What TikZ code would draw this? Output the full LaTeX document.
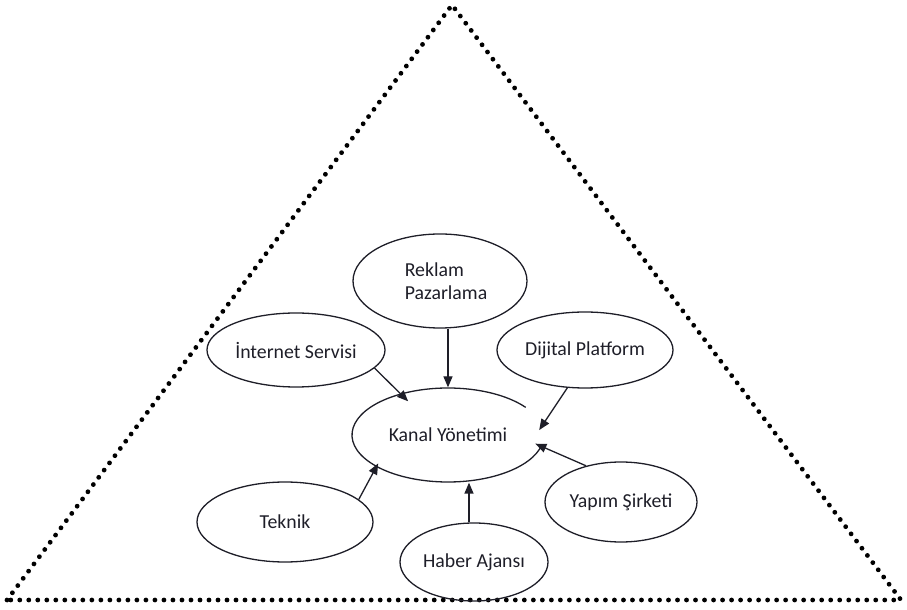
\documentclass[tikz,border=0pt]{standalone}
\usepackage{fontspec}
\setmainfont{Carlito}
\usetikzlibrary{shapes.geometric,arrows.meta}
\definecolor{ink}{HTML}{1E1E28}
\begin{document}
\begin{tikzpicture}[x=1pt,y=1pt,
  bubble/.style={ellipse,draw=ink,line width=1.3pt,inner sep=0pt,
    font=\fontsize{19.8}{23}\selectfont,text=ink,align=left},
  feed/.style={draw=ink,line width=1.3pt,-{Triangle[length=11pt,width=9pt]}},
  frame/.style={draw=black,line width=4.8pt,line cap=round,line join=round,
    dash pattern=on 0.01pt off 9pt}]
\useasboundingbox (0,0) rectangle (907,610);

% dotted outer triangle
\coordinate (apex) at (452,605);
\coordinate (bl) at (7,10);
\coordinate (br) at (901,10);
\draw[frame] (bl) -- (apex) -- (br) -- cycle;

% surrounding actors
\node[bubble,minimum width=174pt,minimum height=94pt] (rp) at (440,329) {\hspace*{12pt}Reklam\\\hspace*{12pt}Pazarlama};
\node[bubble,minimum width=178pt,minimum height=74pt] (is) at (296,260) {İnternet Servisi};
\node[bubble,minimum width=176pt,minimum height=76pt] (dp) at (585,260) {Dijital Platform};
\node[bubble,minimum width=176pt,minimum height=80pt] (tk) at (285,88) {Teknik};
\node[bubble,minimum width=152pt,minimum height=80pt] (ys) at (621,108) {Yapım Şirketi};
\node[bubble,minimum width=148pt,minimum height=78pt] (ha) at (474,48) {Haber Ajansı};

% central node, outline open on the right
\node[bubble,draw=none,minimum width=192pt,minimum height=94pt] (kn) at (448,175) {Kanal Yönetimi};
\draw[ink,line width=1.3pt] ([shift={(36:96pt and 47pt)}]kn.center)
  arc[start angle=36,end angle=348,x radius=96pt,y radius=47pt];

% influences on channel management
\draw[feed] (rp.south -| kn.north) -- (kn.north);
\draw[feed,shorten >=-11pt] (is.-13) -- (kn.139);
\draw[feed,shorten >=-6pt] (dp.245) -- (kn.6);
\draw[feed,shorten >=-7pt] (ys.134) -- (kn.-7);
\draw[feed] ([xshift=-5pt]ha.north) -- ([xshift=-5pt]ha.north |- kn.south);
\draw[feed,shorten >=-4pt] (tk.17) -- (kn.204);
\end{tikzpicture}
\end{document}
